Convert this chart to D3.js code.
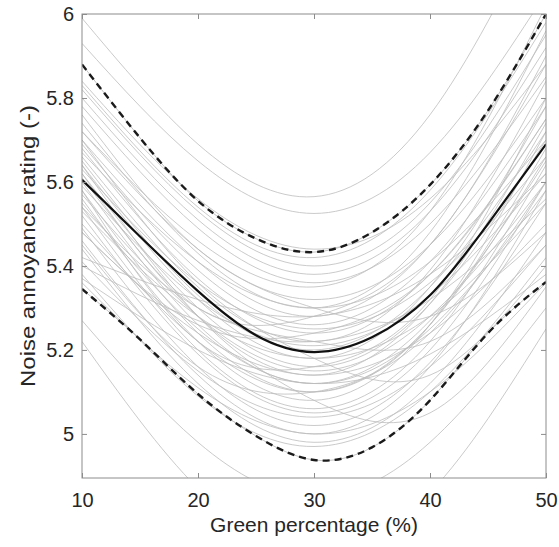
<!DOCTYPE html>
<html>
<head>
<meta charset="utf-8">
<script src="https://cdn.jsdelivr.net/npm/d3@7"></script>
<style>
    html, body { margin: 0; padding: 0; background: #fff; }
    svg { display: block; font-family: "Liberation Sans", Arial, sans-serif; }
</style>
</head>
<body>
<svg id="chart" width="559" height="547"></svg>
<script>
// green percentage positions where the individual curves were read
const xGrid = [10, 20, 30, 40, 50];
// one row per respondent curve, values at xGrid
const subjectCurves = [
    [5.99, 5.69, 5.565, 5.76, 6.25],
    [5.93, 5.65, 5.525, 5.67, 6.05],
    [5.83, 5.54, 5.42, 5.58, 5.98],
    [5.82, 5.53, 5.40, 5.55, 5.95],
    [5.80, 5.51, 5.38, 5.53, 5.92],
    [5.78, 5.49, 5.36, 5.50, 5.85],
    [5.74, 5.43, 5.30, 5.48, 5.96],
    [5.72, 5.44, 5.32, 5.45, 5.80],
    [5.70, 5.41, 5.28, 5.45, 5.88],
    [5.69, 5.39, 5.26, 5.41, 5.78],
    [5.68, 5.37, 5.24, 5.38, 5.75],
    [5.67, 5.41, 5.30, 5.41, 5.70],
    [5.66, 5.35, 5.22, 5.39, 5.84],
    [5.65, 5.33, 5.20, 5.35, 5.72],
    [5.64, 5.32, 5.18, 5.35, 5.78],
    [5.63, 5.36, 5.25, 5.36, 5.66],
    [5.62, 5.30, 5.16, 5.31, 5.70],
    [5.61, 5.28, 5.14, 5.31, 5.74],
    [5.60, 5.26, 5.12, 5.27, 5.65],
    [5.59, 5.32, 5.21, 5.33, 5.62],
    [5.58, 5.24, 5.10, 5.26, 5.68],
    [5.57, 5.28, 5.15, 5.28, 5.60],
    [5.56, 5.22, 5.08, 5.26, 5.72],
    [5.55, 5.25, 5.12, 5.25, 5.58],
    [5.54, 5.20, 5.06, 5.22, 5.64],
    [5.53, 5.28, 5.18, 5.28, 5.55],
    [5.52, 5.19, 5.05, 5.20, 5.60],
    [5.50, 5.22, 5.10, 5.26, 5.66],
    [5.49, 5.16, 5.02, 5.17, 5.55],
    [5.48, 5.24, 5.14, 5.24, 5.50],
    [5.46, 5.14, 5.00, 5.16, 5.58],
    [5.45, 5.16, 5.10, 5.24, 5.60],
    [5.44, 5.12, 4.98, 5.12, 5.48],
    [5.42, 5.32, 5.28, 5.38, 5.62],
    [5.41, 5.15, 5.04, 5.16, 5.45],
    [5.40, 5.27, 5.22, 5.32, 5.56],
    [5.38, 5.09, 4.97, 5.10, 5.42],
    [5.37, 5.20, 5.12, 5.19, 5.38],
    [5.36, 5.11, 5.00, 5.10, 5.36],
    [5.27, 4.98, 4.85, 4.98, 5.30],
    [5.22, 4.87, 4.72, 4.86, 5.25],
    [5.72, 5.46, 5.35, 5.53, 6.02],
    [5.62, 5.30, 5.28, 5.45, 5.90],
    [5.58, 5.22, 5.16, 5.32, 5.80],
    [5.76, 5.44, 5.30, 5.28, 5.48],
    [5.54, 5.30, 5.22, 5.22, 5.45],
    [5.84, 5.56, 5.44, 5.56, 5.88],
    [5.48, 5.26, 5.24, 5.38, 5.75],
    [5.70, 5.36, 5.18, 5.14, 5.40],
    [5.64, 5.28, 5.08, 5.05, 5.35]
];
// mean curve and its band, read every 5 %
const xFine = [10, 15, 20, 25, 30, 35, 40, 45, 50];
const meanCurve = [5.605, 5.47, 5.34, 5.235, 5.195, 5.23, 5.33, 5.50, 5.69];
const upperBound = [5.88, 5.705, 5.555, 5.465, 5.433, 5.48, 5.593, 5.77, 6.0];
const lowerBound = [5.345, 5.225, 5.095, 4.995, 4.938, 4.968, 5.08, 5.24, 5.362];
const xTicks = [10, 20, 30, 40, 50];
const yTicks = [5, 5.2, 5.4, 5.6, 5.8, 6];

const svg = d3.select('#chart');
const margin = { left: 82, right: 13, top: 14, bottom: 69 };
const width = 559 - margin.left - margin.right;
const height = 547 - margin.top - margin.bottom;
const axisColor = '#8c8c8c';
const textColor = '#262626';

const x = d3.scaleLinear().domain([10, 50]).range([0, width]);
const y = d3.scaleLinear().domain([4.895, 6]).range([height, 0]);

const g = svg.append('g').attr('transform', `translate(${margin.left},${margin.top})`);
svg.append('defs').append('clipPath').attr('id', 'plot-clip')
    .append('rect').attr('width', width).attr('height', height);

const plot = g.append('g').attr('clip-path', 'url(#plot-clip)');
const line = xs => d3.line().x((d, i) => x(xs[i])).y(d => y(d)).curve(d3.curveNatural);

plot.append('g').selectAll('path').data(subjectCurves).join('path')
    .attr('d', line(xGrid))
    .attr('fill', 'none').attr('stroke', '#bdbdbd').attr('stroke-width', 0.8);

[upperBound, lowerBound].forEach(band => {
    plot.append('path').attr('d', line(xFine)(band))
        .attr('fill', 'none').attr('stroke', '#c4c4c4').attr('stroke-width', 1);
    plot.append('path').attr('d', line(xFine)(band))
        .attr('fill', 'none').attr('stroke', '#1a1a1a').attr('stroke-width', 2.4)
        .attr('stroke-dasharray', '7,5');
});
plot.append('path').attr('d', line(xFine)(meanCurve))
    .attr('fill', 'none').attr('stroke', '#111').attr('stroke-width', 2.2);

// box with inward ticks on all sides
const styleAxis = sel => {
    sel.select('.domain').remove();
    sel.selectAll('.tick line').attr('stroke', axisColor);
    sel.selectAll('.tick text').attr('fill', textColor).style('font-size', '20px');
};
g.append('g').attr('transform', `translate(0,${height})`)
    .call(d3.axisBottom(x).tickValues(xTicks).tickSize(-5).tickPadding(15).tickFormat(d3.format('d')))
    .call(styleAxis);
g.append('g')
    .call(d3.axisLeft(y).tickValues(yTicks).tickSize(-5).tickPadding(8).tickFormat(d => d))
    .call(styleAxis);
g.append('g')
    .call(d3.axisTop(x).tickValues(xTicks).tickSize(-5).tickFormat(''))
    .call(styleAxis);
g.append('g').attr('transform', `translate(${width},0)`)
    .call(d3.axisRight(y).tickValues(yTicks).tickSize(-5).tickFormat(''))
    .call(styleAxis);
g.append('rect').attr('width', width).attr('height', height)
    .attr('fill', 'none').attr('stroke', axisColor).attr('stroke-width', 1);

svg.append('text')
    .attr('x', margin.left + width / 2).attr('y', 532)
    .attr('text-anchor', 'middle').attr('fill', textColor).style('font-size', '21px')
    .text('Green percentage (%)');
svg.append('text')
    .attr('transform', `translate(35,${margin.top + height / 2}) rotate(-90) scale(1.14,1)`)
    .attr('text-anchor', 'middle').attr('fill', textColor).style('font-size', '21px')
    .text('Noise annoyance rating (-)');
</script>
</body>
</html>
